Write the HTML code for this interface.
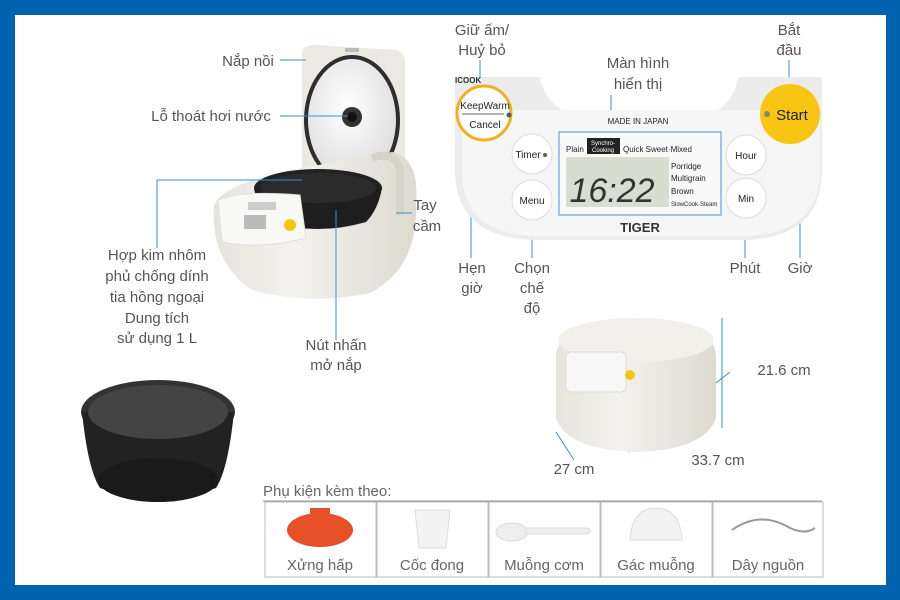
<!DOCTYPE html>
<html><head><meta charset="utf-8"><style>
body{margin:0;width:900px;height:600px;overflow:hidden;background:#0163b0}
svg{display:block}
text{font-family:"Liberation Sans","DejaVu Sans",sans-serif}
</style></head><body>
<svg width="900" height="600" viewBox="0 0 900 600">
<defs>
<radialGradient id="w" cx="0.45" cy="0.4" r="0.7"><stop offset="0" stop-color="#fff"/><stop offset="1" stop-color="#d8d8d8"/></radialGradient>
<linearGradient id="b" x1="0" y1="0" x2="1" y2="0"><stop offset="0" stop-color="#e6e4dc"/><stop offset="0.4" stop-color="#f3f2ee"/><stop offset="1" stop-color="#dddad0"/></linearGradient>
</defs>
<rect x="0" y="0" width="900" height="600" fill="#0163b0"/>
<rect x="15" y="15" width="871" height="570" fill="#fff"/>
<!-- main cooker -->
<path d="M302 52Q302 45 318 45L396 50Q405 52 405 62V185L302 205Z" fill="#ebe9e0"/>
<rect x="345" y="48" width="14" height="4" fill="#bbb"/>
<ellipse cx="352" cy="120" rx="46" ry="63" fill="url(#w)" stroke="#2e2e2e" stroke-width="4"/>
<circle cx="352" cy="117" r="10" fill="#333"/><circle cx="352" cy="117" r="5" fill="#111"/>
<path d="M214 205Q222 185 290 170L392 152Q420 158 416 205Q418 268 370 293Q310 306 252 290Q210 262 214 205Z" fill="url(#b)"/>
<path d="M372 158Q395 150 400 170V215" fill="none" stroke="#d6d3c8" stroke-width="8"/>
<ellipse cx="318" cy="188" rx="64" ry="19" fill="#222"/>
<path d="M254 188Q258 212 268 222Q318 236 366 222Q378 210 382 188Z" fill="#1e1e1e"/>
<ellipse cx="318" cy="188" rx="58" ry="15" fill="#2b2b2b"/>
<path d="M218 200Q240 190 300 195L306 238Q260 250 222 242Z" fill="#f8f8f6" stroke="#e0ded6"/>
<rect x="248" y="202" width="28" height="8" fill="#ccc"/>
<rect x="244" y="215" width="22" height="14" fill="#bbb"/>
<circle cx="290" cy="225" r="6" fill="#f8c512"/>
<g fill="#555" font-size="15" text-anchor="middle">
<text x="248" y="66">Nắp nồi</text>
<text x="211" y="121">Lỗ thoát hơi nước</text>
<text x="425" y="210">Tay</text><text x="427" y="231">cầm</text>
<text x="157" y="260">Hợp kim nhôm</text>
<text x="157" y="281">phủ chống dính</text>
<text x="157" y="302">tia hồng ngoại</text>
<text x="157" y="323">Dung tích</text>
<text x="157" y="343">sử dụng 1 L</text>
<text x="336" y="350">Nút nhấn</text><text x="336" y="370">mở nắp</text>
<text x="482" y="35">Giữ ấm/</text><text x="482" y="55">Huỷ bỏ</text>
<text x="638" y="68">Màn hình</text><text x="638" y="89">hiển thị</text>
<text x="789" y="35">Bắt</text><text x="789" y="55">đầu</text>
<text x="472" y="273">Hẹn</text><text x="472" y="293">giờ</text>
<text x="532" y="273">Chọn</text><text x="532" y="293">chế</text><text x="532" y="313">độ</text>
<text x="745" y="273">Phút</text><text x="800" y="273">Giờ</text>
<text x="784" y="375">21.6 cm</text>
<text x="574" y="474">27 cm</text>
<text x="718" y="465">33.7 cm</text>
</g>
<g stroke="#3a8fd6" stroke-width="1" fill="none">
<path d="M280 60H306M280 116H348M412 213H396M157 248V180H302M336 340V210"/>
<path d="M480 60V112M611 95V132M789 60V110M471 258V157H530M532 258V208M800 258V157H752M745 258V200"/>
<path d="M722 318V428M574 460L556 432M628 452L730 372"/>
</g>
<!-- panel -->
<path d="M455 77H540Q548 115 590 118H690Q732 115 738 77H822V170Q822 240 740 240H540Q455 240 455 170Z" fill="#ececec"/>
<path d="M462 110H820V170Q820 236 740 236H540Q462 236 462 170Z" fill="#f6f6f6"/>
<text x="455" y="83" font-size="8" font-weight="bold" fill="#333">ICOOK</text>
<circle cx="484" cy="113" r="27" fill="#fff" stroke="#f0b020" stroke-width="3"/>
<text x="485" y="109" font-size="10" text-anchor="middle" fill="#222">KeepWarm</text>
<line x1="462" y1="114" x2="504" y2="114" stroke="#666"/>
<text x="485" y="128" font-size="10" text-anchor="middle" fill="#222">Cancel</text>
<circle cx="509" cy="115" r="2.5" fill="#557"/>
<circle cx="790" cy="114" r="30" fill="#f8c512"/>
<circle cx="767" cy="114" r="3" fill="#886"/>
<text x="792" y="120" font-size="15" text-anchor="middle" fill="#222">Start</text>
<text x="638" y="124" font-size="8" text-anchor="middle" fill="#222">MADE IN JAPAN</text>
<circle cx="532" cy="154" r="20" fill="#fff" stroke="#ddd"/><text x="528" y="158" font-size="10" text-anchor="middle" fill="#222">Timer</text><circle cx="545" cy="155" r="2" fill="#557"/>
<circle cx="532" cy="200" r="20" fill="#fff" stroke="#ddd"/><text x="532" y="204" font-size="10" text-anchor="middle" fill="#222">Menu</text>
<circle cx="746" cy="155" r="20" fill="#fff" stroke="#ddd"/><text x="746" y="159" font-size="10" text-anchor="middle" fill="#222">Hour</text>
<circle cx="746" cy="198" r="20" fill="#fff" stroke="#ddd"/><text x="746" y="202" font-size="10" text-anchor="middle" fill="#222">Min</text>
<rect x="559" y="132" width="162" height="83" fill="#f9f9f9" stroke="#4a90d9"/>
<text x="566" y="152" font-size="8" fill="#222">Plain</text>
<rect x="587" y="138" width="33" height="16" fill="#222"/><text x="603" y="145" font-size="6" fill="#fff" text-anchor="middle">Synchro-</text><text x="603" y="152" font-size="6" fill="#fff" text-anchor="middle">Cooking</text>
<text x="623" y="152" font-size="8" fill="#222">Quick  Sweet·Mixed</text>
<rect x="566" y="157" width="103" height="50" fill="#d9dcd0"/>
<text x="612" y="202" font-size="34" font-style="italic" fill="#333" text-anchor="middle">16:22</text>
<g font-size="8" fill="#222"><text x="671" y="169">Porridge</text><text x="671" y="181">Multigrain</text><text x="671" y="194">Brown</text><text x="671" y="206" font-size="6">SlowCook·Steam</text></g>
<text x="640" y="232" font-size="13" font-weight="bold" text-anchor="middle" fill="#333">TIGER</text>
<!-- inner pot -->
<ellipse cx="158" cy="412" rx="77" ry="32" fill="#333"/>
<path d="M82 412Q88 470 100 488Q158 510 216 488Q228 470 234 412Z" fill="#222"/>
<ellipse cx="158" cy="412" rx="70" ry="27" fill="#444"/>
<ellipse cx="158" cy="480" rx="60" ry="22" fill="#1a1a1a"/>
<!-- small cooker -->
<path d="M556 355Q560 320 635 320Q712 320 716 355V418Q705 450 636 452Q567 450 556 418Z" fill="url(#b)"/>
<ellipse cx="636" cy="340" rx="78" ry="22" fill="#f1f0eb"/>
<rect x="566" y="352" width="60" height="40" rx="5" fill="#f8f8f8" stroke="#ddd"/>
<circle cx="630" cy="375" r="5" fill="#f8c512"/>
<!-- accessories -->
<text x="263" y="496" font-size="15" fill="#666">Phụ kiện kèm theo:</text>
<line x1="263" y1="501" x2="822" y2="501" stroke="#999"/>
<g fill="none" stroke="#bbb"><rect x="265" y="502" width="111" height="75"/><rect x="377" y="502" width="111" height="75"/><rect x="489" y="502" width="111" height="75"/><rect x="601" y="502" width="111" height="75"/><rect x="713" y="502" width="110" height="75"/></g>
<g font-size="15" fill="#666" text-anchor="middle"><text x="320" y="570">Xửng hấp</text><text x="432" y="570">Cốc đong</text><text x="544" y="570">Muỗng cơm</text><text x="656" y="570">Gác muỗng</text><text x="768" y="570">Dây nguồn</text></g>
<ellipse cx="320" cy="530" rx="33" ry="17" fill="#e8502a"/><rect x="310" y="508" width="20" height="12" fill="#e8502a"/>
<path d="M415 510H450L446 548H419Z" fill="#f3f3f3" stroke="#ddd"/>
<ellipse cx="512" cy="532" rx="16" ry="9" fill="#eee" stroke="#ddd"/><rect x="525" y="528" width="65" height="6" rx="3" fill="#eee" stroke="#ddd"/>
<path d="M630 540Q632 508 656 508Q680 508 682 540Z" fill="#f2f2f2" stroke="#ddd"/>
<path d="M732 530Q760 510 790 528Q805 535 815 528" fill="none" stroke="#999" stroke-width="2"/>
</svg>
</body></html>
